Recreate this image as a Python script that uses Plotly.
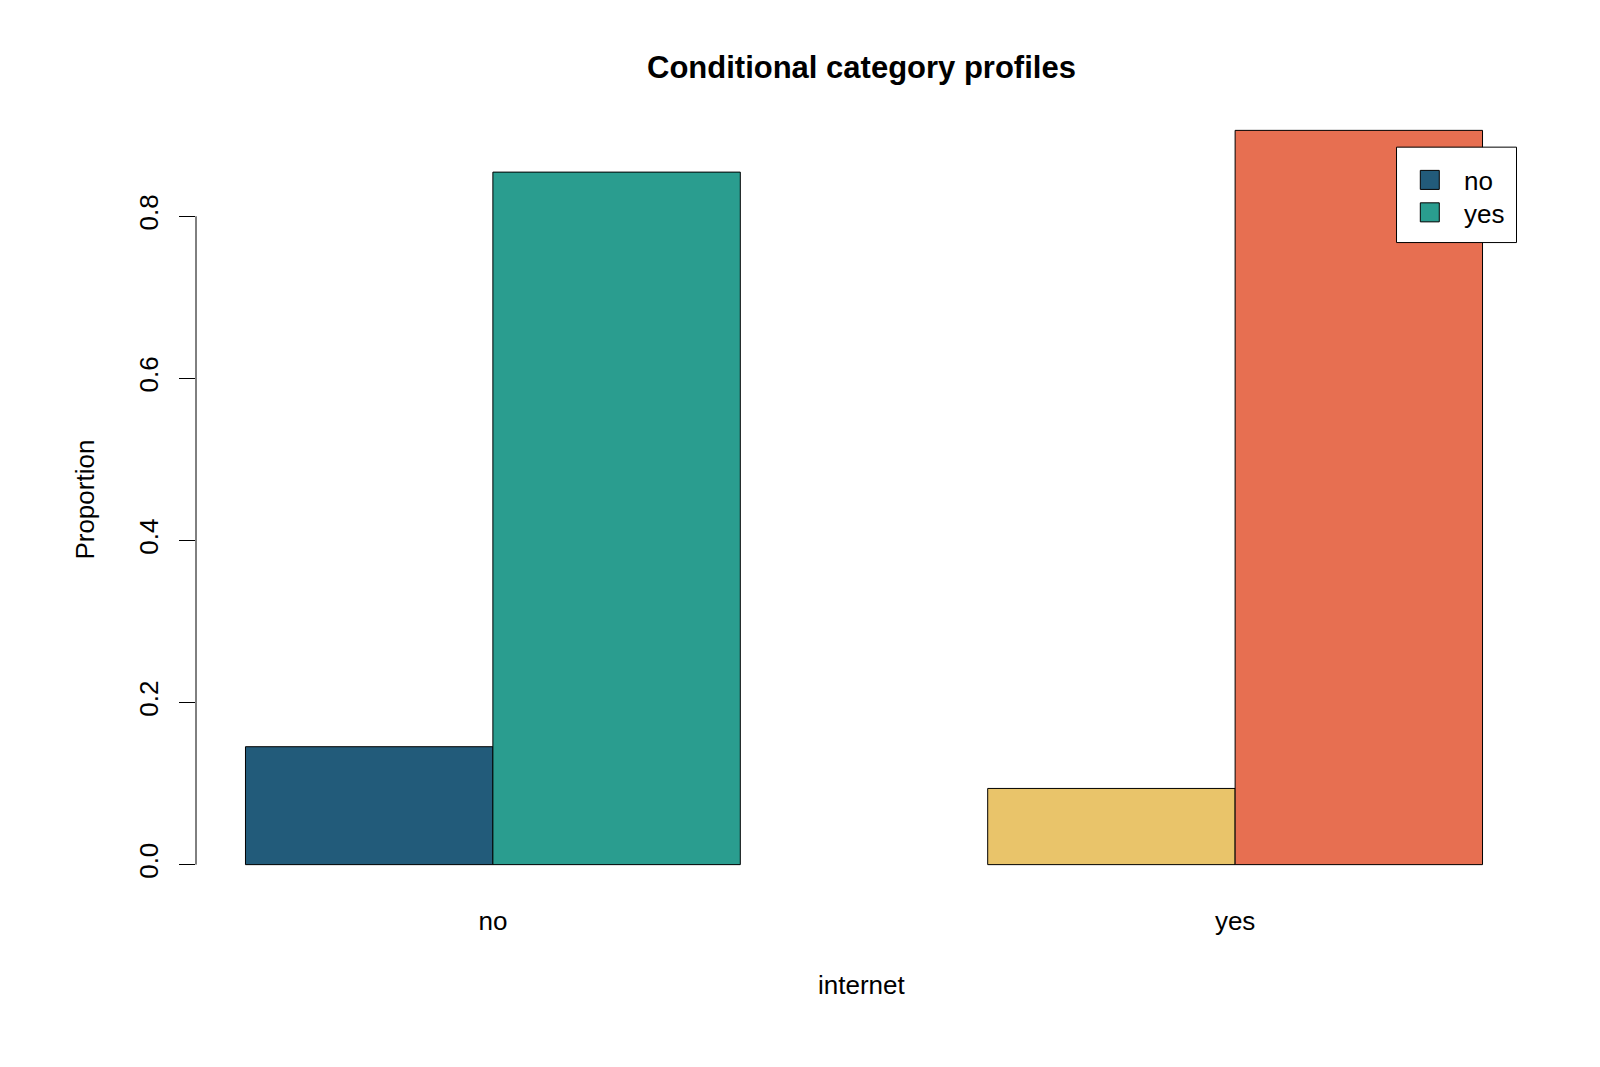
import plotly.graph_objects as go

# ---- data ----
categories = ["no", "yes"]            # internet
series_names = ["no", "yes"]
no_values = [0.1455, 0.094]
yes_values = [0.8545, 0.906]
no_colors = ["#225B7A", "#E9C46A"]
yes_colors = ["#2A9D8F", "#E76F51"]
y_ticks = [0.0, 0.2, 0.4, 0.6, 0.8]

FONT = "Liberation Sans, Arial, sans-serif"

fig = go.Figure()
fig.add_trace(go.Bar(name=series_names[0], x=categories, y=no_values,
                     marker=dict(color=no_colors, line=dict(color="black", width=1)),
                     showlegend=False))
fig.add_trace(go.Bar(name=series_names[1], x=categories, y=yes_values,
                     marker=dict(color=yes_colors, line=dict(color="black", width=1)),
                     showlegend=False))

ymax = max(no_values + yes_values)

fig.update_layout(
    width=1600, height=1067,
    margin=dict(l=195.5, r=67.8, t=101.2, b=173.3),
    paper_bgcolor="white", plot_bgcolor="white",
    font=dict(family=FONT, size=26, color="black"),
    barmode="group", bargap=1/3, bargroupgap=0,
    showlegend=False,
    xaxis=dict(type="category", range=[-0.4, 1.4], showline=False, showgrid=False,
               zeroline=False, ticks="", tickfont=dict(size=26),
               ticklabelstandoff=9),
    yaxis=dict(range=[-0.04 * ymax, 1.04 * ymax], showline=False, showgrid=False,
               zeroline=False, tickmode="array", tickvals=y_ticks,
               ticktext=[f"{v:.1f}" for v in y_ticks],
               ticks="outside", ticklen=16, tickwidth=1, tickcolor="black",
               tickangle=-90, tickfont=dict(size=26), ticklabelstandoff=11),
)

# y axis line (only spanning the ticks, like base R)
fig.add_shape(type="line", xref="paper", yref="y", x0=0, x1=0,
              y0=y_ticks[0], y1=y_ticks[-1], line=dict(color="black", width=1))

# title and axis labels
fig.add_annotation(text="<b>Conditional category profiles</b>", xref="paper", yref="paper",
                   x=0.4985, y=1.0428, xanchor="center", yanchor="middle",
                   showarrow=False, font=dict(size=31, family=FONT, color="black"))
fig.add_annotation(text="internet", xref="paper", yref="paper",
                   x=0.4985, y=-0.1152, xanchor="center", yanchor="middle",
                   showarrow=False, font=dict(size=26, family=FONT, color="black"))
fig.add_annotation(text="Proportion", xref="paper", yref="paper",
                   x=-0.0834, y=0.4968, xanchor="center", yanchor="middle",
                   textangle=-90, showarrow=False,
                   font=dict(size=26, family=FONT, color="black"))

# legend box (top right, base-R style)
fig.add_shape(type="rect", xref="paper", yref="paper", x0=0.8986, x1=0.9884,
              y0=0.8215, y1=0.9418, fillcolor="white",
              line=dict(color="black", width=1), layer="above")
legend_y = [0.9005, 0.8596]
legend_colors = [no_colors[0], yes_colors[0]]
for name, col, yc in zip(series_names, legend_colors, legend_y):
    fig.add_shape(type="rect", xref="paper", yref="paper", x0=0.9164, x1=0.9306,
                  y0=yc - 0.012, y1=yc + 0.012, fillcolor=col,
                  line=dict(color="black", width=1), layer="above")
    fig.add_annotation(text=name, xref="paper", yref="paper", x=0.9475, y=yc - 0.002,
                       xanchor="left", yanchor="middle", showarrow=False,
                       font=dict(size=26, family=FONT, color="black"))

fig.write_html("out.html")
